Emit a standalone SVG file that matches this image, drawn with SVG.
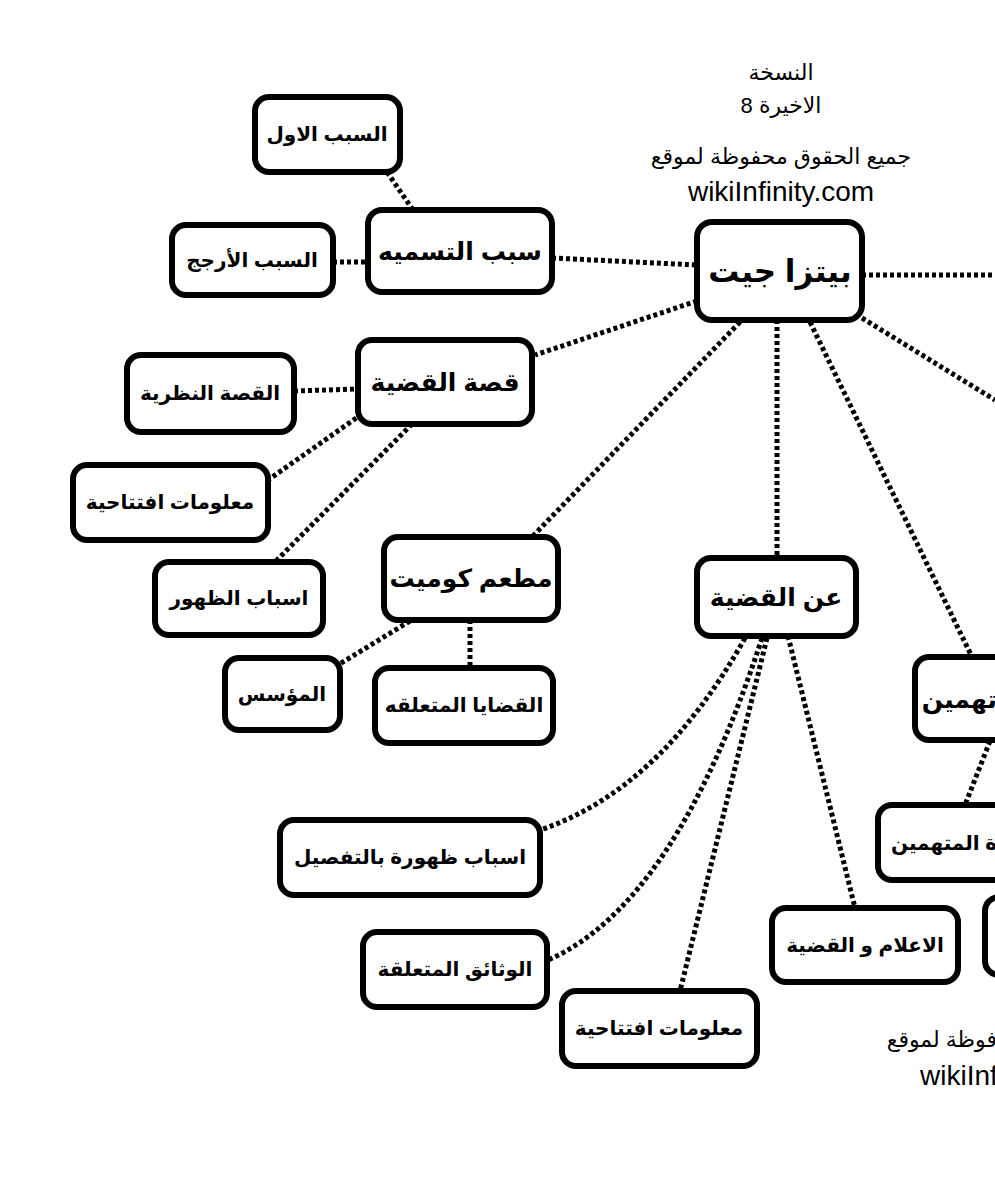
<svg xmlns="http://www.w3.org/2000/svg" width="995" height="1200" viewBox="0 0 995 1200">
<style>
.n rect{fill:#fff;stroke:#000;stroke-width:6}
.n text{font-family:"Liberation Sans","DejaVu Sans",sans-serif;font-weight:bold;text-anchor:middle;fill:#000}
.t1{font-size:31px}
.t2{font-size:25px}
.t3{font-size:20px}
.c path{fill:none;stroke:#000;stroke-width:5;stroke-dasharray:4 3}
.cap{font-family:"Liberation Sans","DejaVu Sans",sans-serif;font-size:22px;text-anchor:middle;fill:#000}
.url{font-family:"Liberation Sans",sans-serif;font-size:28px;fill:#000}
</style>
<rect width="995" height="1200" fill="#fff"/>
<g id="caption">
<text class="cap" x="781" y="80">النسخة</text>
<text class="cap" x="781" y="113">الاخيرة 8</text>
<text class="cap" x="781" y="164">جميع الحقوق محفوظة لموقع</text>
<text class="url" x="781" y="201" text-anchor="middle">wikiInfinity.com</text>
</g>
<g id="caption2">
<text class="cap" x="997" y="1047" style="text-anchor:end">فوظة لموقع</text>
<text class="url" x="920" y="1085">wikiInf</text>
</g>
<g class="c" id="connectors">
<path d="M862 275 L995 275"/>
<path d="M862 318 L995 400"/>
<path d="M810 322 L972 657"/>
<path d="M552 258 L697 265"/>
<path d="M697 301 L535 355"/>
<path d="M740 322 L532 537"/>
<path d="M777 320 L777 558"/>
<path d="M788 636 L855 908"/>
<path d="M387 172 L413 210"/>
<path d="M333 262 L368 262"/>
<path d="M294 391 L358 389"/>
<path d="M362 414 L268 480"/>
<path d="M412 424 L275 562"/>
<path d="M410 621 L338 665"/>
<path d="M470 620 L470 668"/>
<path d="M745 638 Q660 790 540 830"/>
<path d="M762 638 Q675 905 548 960"/>
<path d="M767 638 L680 991"/>
<path d="M990 741 L965 805"/>
</g>
<g class="n" id="n-center"><rect x="697" y="222" width="165" height="98" rx="15"/><text class="t1" x="780" y="282">بيتزا جيت</text></g>
<g class="n" id="n-sabab"><rect x="368" y="210" width="184" height="82" rx="14"/><text class="t2" x="460" y="260">سبب التسميه</text></g>
<g class="n" id="n-awal"><rect x="255" y="97" width="145" height="75" rx="14"/><text class="t3" x="327" y="141">السبب الاول</text></g>
<g class="n" id="n-arjah"><rect x="172" y="225" width="161" height="70" rx="14"/><text class="t3" x="252" y="267">السبب الأرجج</text></g>
<g class="n" id="n-qissa"><rect x="358" y="340" width="174" height="84" rx="14"/><text class="t2" x="445" y="391">قصة القضية</text></g>
<g class="n" id="n-nazari"><rect x="127" y="355" width="167" height="77" rx="14"/><text class="t3" x="210" y="400">القصة النظرية</text></g>
<g class="n" id="n-maalumat1"><rect x="73" y="465" width="195" height="75" rx="14"/><text class="t3" x="170" y="509">معلومات افتتاحية</text></g>
<g class="n" id="n-zuhur"><rect x="155" y="562" width="168" height="73" rx="14"/><text class="t3" x="239" y="605">اسباب الظهور</text></g>
<g class="n" id="n-comet"><rect x="384" y="537" width="174" height="83" rx="14"/><text class="t2" x="471" y="587">مطعم كوميت</text></g>
<g class="n" id="n-muasis"><rect x="225" y="658" width="115" height="72" rx="14"/><text class="t3" x="282" y="701">المؤسس</text></g>
<g class="n" id="n-qadaya"><rect x="375" y="668" width="178" height="75" rx="14"/><text class="t3" x="464" y="712">القضايا المتعلقه</text></g>
<g class="n" id="n-an"><rect x="697" y="558" width="159" height="78" rx="14"/><text class="t2" x="776" y="606">عن القضية</text></g>
<g class="n" id="n-tafsil"><rect x="280" y="820" width="260" height="75" rx="14"/><text class="t3" x="410" y="864">اسباب ظهورة بالتفصيل</text></g>
<g class="n" id="n-wathaiq"><rect x="363" y="932" width="184" height="75" rx="14"/><text class="t3" x="455" y="976">الوثائق المتعلقة</text></g>
<g class="n" id="n-maalumat2"><rect x="562" y="991" width="195" height="75" rx="14"/><text class="t3" x="659" y="1035">معلومات افتتاحية</text></g>
<g class="n" id="n-ilam"><rect x="772" y="908" width="186" height="74" rx="14"/><text class="t3" x="865" y="952">الاعلام و القضية</text></g>
<g class="n" id="n-mutahamin"><rect x="915" y="657" width="120" height="83" rx="14"/><text class="t2" x="997" y="708" style="text-anchor:end">تهمين</text></g>
<g class="n" id="n-mutahamin2"><rect x="878" y="805" width="160" height="75" rx="14"/><text class="t3" x="997" y="850" style="text-anchor:end">ة المتهمين</text></g>
<g class="n" id="n-partial"><rect x="985" y="897" width="60" height="78" rx="14"/></g>
</svg>
